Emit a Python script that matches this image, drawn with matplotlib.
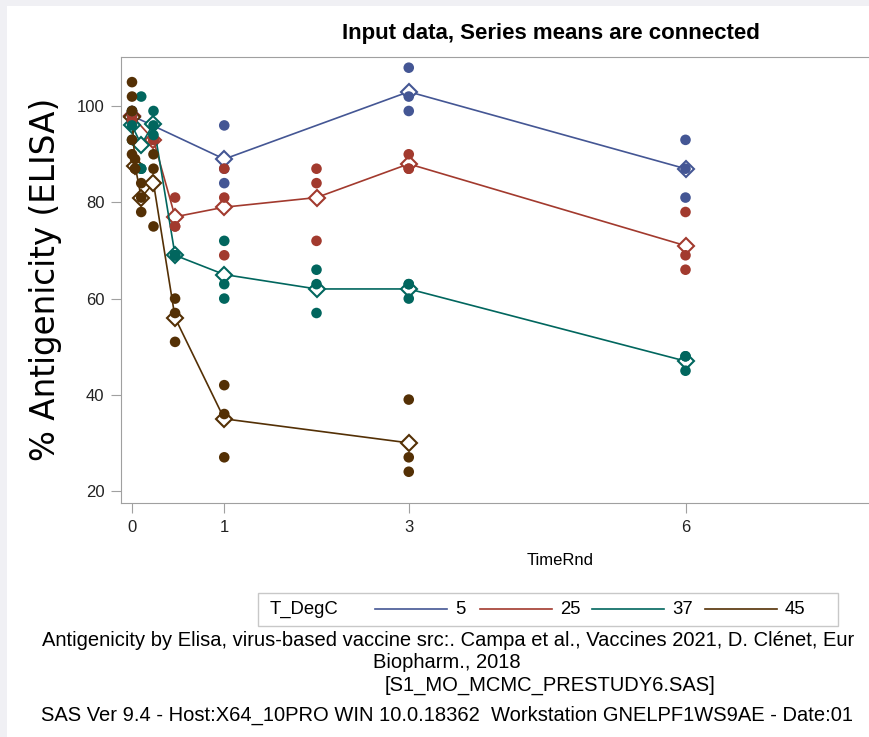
import matplotlib
matplotlib.use("Agg")
import matplotlib.pyplot as plt
from matplotlib.lines import Line2D
from matplotlib.patches import Rectangle
import pandas as pd

# data (TimeRnd in months, % antigenicity)
time_5 = [0, 0, 0, 1, 1, 1, 3, 3, 3, 6, 6, 6]
elisa_5 = [99, 98, 97, 96, 87, 84, 108, 102, 99, 93, 87, 81]

time_25 = [0, 0, 0, 0.233, 0.233, 0.233, 0.467, 0.467, 0.467, 1, 1, 1,
           2, 2, 2, 3, 3, 3, 6, 6, 6]
elisa_25 = [99, 98, 97, 93, 93, 93, 81, 75, 75, 87, 81, 69,
            87, 84, 72, 90, 87, 87, 78, 69, 66]

time_37 = [0, 0, 0, 0.1, 0.1, 0.1, 0.233, 0.233, 0.233, 0.467, 0.467, 0.467,
           1, 1, 1, 2, 2, 2, 3, 3, 3, 6, 6, 6]
elisa_37 = [99, 96, 93, 102, 87, 87, 99, 96, 94, 69, 69, 69,
            72, 63, 60, 66, 63, 57, 63, 63, 60, 48, 48, 45]

time_45 = [0, 0, 0, 0, 0, 0.033, 0.033, 0.033, 0.1, 0.1, 0.1,
           0.233, 0.233, 0.233, 0.467, 0.467, 0.467, 1, 1, 1, 3, 3, 3]
elisa_45 = [105, 102, 99, 93, 90, 89, 87, 87, 84, 81, 78,
            90, 87, 75, 60, 57, 51, 42, 36, 27, 39, 27, 24]

temps = ["5", "25", "37", "45"]
times = [time_5, time_25, time_37, time_45]
values = [elisa_5, elisa_25, elisa_37, elisa_45]
colors = ["#445694", "#A23A2E", "#01665E", "#543005"]

xticks = [0, 1, 3, 6]
yticks = [20, 40, 60, 80, 100]

plt.rcParams["font.family"] = ["Liberation Sans", "DejaVu Sans"]

fig = plt.figure(figsize=(8.7, 7.37), dpi=100)

# grey window edge seen on the screenshot
fig.patches.append(Rectangle((0, 1 - 6 / 737), 1, 6 / 737, transform=fig.transFigure,
                             color="#f0f0f4", lw=0))
fig.patches.append(Rectangle((0, 0), 7 / 870, 1, transform=fig.transFigure,
                             color="#f0f0f4", lw=0))

ax = fig.add_axes([0.139, 0.3175, 0.861, 0.605])

for t, v, c in zip(times, values, colors):
    df = pd.DataFrame({"t": t, "v": v})
    means = df.groupby("t")["v"].mean()
    ax.plot(means.index, means.values, color=c, lw=1.2, marker="D", ms=8.5,
            mfc="white", mec=c, mew=1.5, zorder=2)
    ax.scatter(df["t"], df["v"], s=58, color=c, edgecolors="none", zorder=3)

ax.set_xlim(-0.12, 8.0)
ax.set_ylim(17.5, 110.2)
ax.set_xticks(xticks)
ax.set_yticks(yticks)
ax.tick_params(colors="#a0a0a0", labelcolor="#222222", labelsize=12, length=7,
               pad=5)
for s in ax.spines.values():
    s.set_color("#a0a0a0")

fig.text(0.633, 0.955, "Input data, Series means are connected", ha="center",
         va="center", fontsize=16, fontweight="bold")
fig.text(0.052, 0.621, "% Antigenicity (ELISA)", rotation=90, ha="center",
         va="center", fontsize=23.5, family="DejaVu Sans")
fig.text(0.644, 0.24, "TimeRnd", ha="center", va="center", fontsize=12)

# legend box
fig.patches.append(Rectangle((258 / 870, 1 - 626 / 737), 580 / 870, 33 / 737,
                             transform=fig.transFigure, fill=False,
                             edgecolor="#c8c8c8", lw=1))
fig.text(270 / 870, 1 - 609 / 737, "T_DegC", ha="left", va="center", fontsize=13.3)
leg_x = [375, 480, 592, 705]
for lx, c, lab in zip(leg_x, colors, temps):
    fig.lines.append(Line2D([lx / 870, (lx + 72) / 870], [1 - 609 / 737] * 2,
                            transform=fig.transFigure, color=c, lw=1.2))
    fig.text((lx + 80) / 870, 1 - 609 / 737, lab, ha="left", va="center",
             fontsize=13.3)

foot = [
    (42, 640, "Antigenicity by Elisa, virus-based vaccine src:. Campa et al., Vaccines 2021, D. Clénet, Eur"),
    (373, 662, "Biopharm., 2018"),
    (385, 685, "[S1_MO_MCMC_PRESTUDY6.SAS]"),
    (41, 715, "SAS Ver 9.4 - Host:X64_10PRO WIN 10.0.18362  Workstation GNELPF1WS9AE - Date:01"),
]
for fx, fy, txt in foot:
    fig.text(fx / 870, 1 - fy / 737, txt, ha="left", va="center", fontsize=14.5)

fig.savefig("out.png", dpi=100)
